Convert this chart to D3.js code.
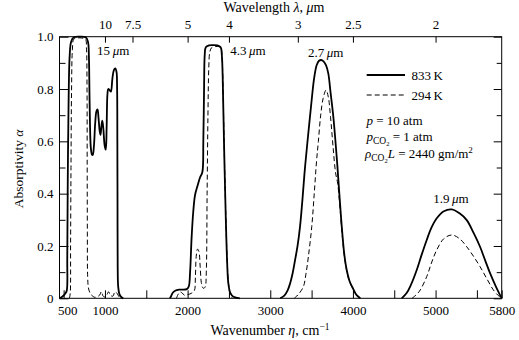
<!DOCTYPE html>
<html>
<head>
<meta charset="utf-8">
<script src="https://cdn.jsdelivr.net/npm/d3@7"></script>
<style>
  body { margin: 0; background: #fff; }
  svg text { font-family: "Liberation Serif", "Times New Roman", serif; fill: #000; }
</style>
</head>
<body>
<div id="wrapper"></div>
<script>
// band data: [wavenumber cm^-1, absorptivity]
const band15Hot = [[450,0],[490,0.008],[520,0.018],[538,0.03],[544,0.15],[550,0.45],[560,0.75],[572,0.92],[590,0.98],[620,0.997],[700,1.0],[770,0.997],[795,0.98],[806,0.92],[812,0.8],[818,0.68],[828,0.58],[842,0.55],[852,0.548],[866,0.58],[882,0.67],[897,0.715],[910,0.722],[922,0.69],[936,0.64],[946,0.625],[958,0.66],[968,0.679],[980,0.65],[996,0.585],[1010,0.568],[1020,0.65],[1030,0.78],[1040,0.8],[1058,0.795],[1072,0.79],[1090,0.84],[1108,0.872],[1125,0.879],[1140,0.865],[1147,0.8],[1150,0.6],[1152,0.35],[1154,0.12],[1160,0.045],[1175,0.016],[1200,0.004],[1222,0]];
const band15Cold = [[570,0],[580,0.02],[584,0.2],[589,0.5],[596,0.8],[606,0.95],[622,0.99],[660,0.995],[720,0.995],[764,0.99],[777,0.95],[783,0.8],[785,0.5],[787,0.25],[790,0.09],[800,0.04],[820,0.02],[845,0.01],[875,0.004],[905,0.006],[935,0.012],[958,0.026],[975,0.01],[995,0.005],[1020,0.012],[1045,0.025],[1065,0.012],[1095,0.008],[1122,0.025],[1148,0.018],[1174,0.004],[1195,0]];
const band43Hot = [[1785,0],[1800,0.008],[1820,0.021],[1850,0.029],[1900,0.033],[1990,0.035],[2014,0.045],[2030,0.1],[2048,0.23],[2068,0.33],[2090,0.395],[2120,0.43],[2150,0.462],[2178,0.482],[2190,0.6],[2199,0.8],[2207,0.93],[2220,0.96],[2260,0.967],[2300,0.968],[2360,0.967],[2400,0.96],[2414,0.93],[2424,0.85],[2440,0.6],[2460,0.33],[2478,0.14],[2492,0.06],[2515,0.022],[2555,0.006],[2632,0]];
const band43Cold = [[1865,0],[1885,0.015],[1910,0.024],[1935,0.02],[1960,0.012],[2000,0.014],[2050,0.02],[2082,0.03],[2094,0.08],[2104,0.16],[2120,0.188],[2136,0.18],[2152,0.12],[2166,0.06],[2180,0.042],[2196,0.038],[2214,0.045],[2226,0.1],[2236,0.4],[2246,0.7],[2256,0.88],[2268,0.94],[2290,0.958],[2330,0.962],[2380,0.962],[2404,0.955],[2416,0.925],[2426,0.84],[2441,0.6],[2461,0.33],[2479,0.14],[2493,0.06],[2512,0.02],[2540,0]];
const band27Hot = [[3120,0],[3170,0.01],[3210,0.03],[3240,0.057],[3270,0.095],[3300,0.146],[3330,0.2],[3360,0.274],[3390,0.38],[3421,0.503],[3460,0.63],[3501,0.758],[3530,0.84],[3562,0.892],[3590,0.908],[3614,0.911],[3645,0.906],[3675,0.89],[3702,0.86],[3730,0.785],[3763,0.694],[3811,0.51],[3840,0.38],[3865,0.274],[3895,0.17],[3925,0.108],[3960,0.065],[4005,0.035],[4045,0.012],[4090,0]];
const band27Cold = [[3290,0],[3340,0.015],[3400,0.044],[3430,0.09],[3461,0.159],[3502,0.274],[3532,0.4],[3560,0.525],[3582,0.6],[3610,0.7],[3640,0.765],[3675,0.796],[3702,0.77],[3730,0.69],[3763,0.567],[3790,0.48],[3815,0.44],[3840,0.36],[3865,0.262],[3895,0.165],[3925,0.104],[3960,0.062],[4005,0.033],[4045,0.011],[4088,0]];
const band19Hot = [[4590,0],[4650,0.02],[4700,0.05],[4772,0.108],[4830,0.165],[4893,0.223],[4950,0.27],[5014,0.306],[5100,0.333],[5196,0.34],[5290,0.325],[5377,0.299],[5460,0.25],[5538,0.197],[5600,0.145],[5659,0.096],[5730,0.045],[5800,0]];
const band19Cold = [[4715,0],[4800,0.025],[4893,0.083],[4950,0.135],[5014,0.185],[5100,0.228],[5196,0.242],[5290,0.228],[5377,0.197],[5460,0.16],[5538,0.121],[5620,0.075],[5699,0.032],[5760,0.01],[5800,0]];

const wavenumberTicks = [500, 1000, 1500, 2000, 2500, 3000, 3500, 4000, 4500, 5000, 5500, 5800];
const wavenumberLabels = [500, 1000, 2000, 3000, 4000, 5000, 5800];
const wavelengthTicks = [10, 7.5, 5, 4, 3, 2.5, 2];
const alphaTicks = [0, 0.1, 0.2, 0.3, 0.4, 0.5, 0.6, 0.7, 0.8, 0.9, 1.0];

const bandLabels = [
  { eta: 904, a: 0.93, num: "15", anchor: "start" },
  { eta: 2515, a: 0.93, num: "4.3", anchor: "start" },
  { eta: 3670, a: 0.924, num: "2.7", anchor: "middle" },
  { eta: 5186, a: 0.363, num: "1.9", anchor: "middle" },
];

const dimensions = {
  width: 519,
  height: 340,
  margin: { top: 36.7, right: 17.3, bottom: 41.7, left: 59.5 },
};
dimensions.boundedWidth = dimensions.width - dimensions.margin.left - dimensions.margin.right;
dimensions.boundedHeight = dimensions.height - dimensions.margin.top - dimensions.margin.bottom;

const svg = d3.select("#wrapper").append("svg")
  .attr("width", dimensions.width)
  .attr("height", dimensions.height);

const bounds = svg.append("g")
  .attr("transform", `translate(${dimensions.margin.left},${dimensions.margin.top})`);

const xScale = d3.scaleLinear().domain([450, 5800]).range([0, dimensions.boundedWidth]);
const yScale = d3.scaleLinear().domain([0, 1]).range([dimensions.boundedHeight, 0]);

const font = "Liberation Serif, Times New Roman, serif";
function styleAxis(g) {
  g.select(".domain").remove();
  g.attr("font-size", 13).attr("font-family", font);
  g.selectAll("line").attr("stroke", "#000");
}

// bottom axis
bounds.append("g")
  .attr("transform", `translate(0,${dimensions.boundedHeight})`)
  .call(d3.axisBottom(xScale).tickValues(wavenumberTicks).tickSizeInner(-8).tickSizeOuter(0).tickPadding(7.5)
    .tickFormat(d => wavenumberLabels.includes(d) ? d : ""))
  .call(styleAxis)
  .call(g => g.selectAll(".tick text").filter(d => d === 500).attr("dx", 3.5));

// top axis (wavelength)
bounds.append("g")
  .call(d3.axisTop(xScale).tickValues(wavelengthTicks.map(l => 1e4 / l)).tickSizeInner(-6).tickSizeOuter(0).tickPadding(7.4)
    .tickFormat((d, i) => wavelengthTicks[i]))
  .call(styleAxis);

// left and right axes
const fmtAlpha = d => d === 0 ? "0" : d3.format(".1f")(d);
const major = alphaTicks.filter((d, i) => i % 2 === 0);
const minor = alphaTicks.filter((d, i) => i % 2 === 1);
bounds.append("g")
  .call(d3.axisLeft(yScale).tickValues(major).tickSizeInner(-9).tickSizeOuter(0).tickPadding(6).tickFormat(fmtAlpha))
  .call(styleAxis);
bounds.append("g")
  .call(d3.axisLeft(yScale).tickValues(minor).tickSizeInner(-6).tickSizeOuter(0).tickFormat(""))
  .call(styleAxis);
bounds.append("g")
  .attr("transform", `translate(${dimensions.boundedWidth},0)`)
  .call(d3.axisRight(yScale).tickValues(major).tickSizeInner(-8).tickSizeOuter(0).tickFormat(""))
  .call(styleAxis);
bounds.append("g")
  .attr("transform", `translate(${dimensions.boundedWidth},0)`)
  .call(d3.axisRight(yScale).tickValues(minor).tickSizeInner(-5).tickSizeOuter(0).tickFormat(""))
  .call(styleAxis);

// frame
bounds.append("rect")
  .attr("width", dimensions.boundedWidth)
  .attr("height", dimensions.boundedHeight)
  .attr("fill", "none")
  .attr("stroke", "#000")
  .attr("stroke-width", 1);

// curves
const lineGenerator = d3.line()
  .x(d => xScale(d[0]))
  .y(d => yScale(d[1]))
  .curve(d3.curveCatmullRom.alpha(0.5));

const hotBands = [band15Hot, band43Hot, band27Hot, band19Hot];
const coldBands = [band15Cold, band43Cold, band27Cold, band19Cold];

bounds.selectAll(".cold")
  .data(coldBands)
  .join("path")
  .attr("class", "cold")
  .attr("d", lineGenerator)
  .attr("fill", "none")
  .attr("stroke", "#000")
  .attr("stroke-width", 1)
  .attr("stroke-dasharray", "5,3");

bounds.selectAll(".hot")
  .data(hotBands)
  .join("path")
  .attr("class", "hot")
  .attr("d", lineGenerator)
  .attr("fill", "none")
  .attr("stroke", "#000")
  .attr("stroke-width", 1.8)
  .attr("stroke-linejoin", "round");

// band labels
const labels = bounds.selectAll(".band-label")
  .data(bandLabels)
  .join("text")
  .attr("class", "band-label")
  .attr("x", d => xScale(d.eta))
  .attr("y", d => yScale(d.a))
  .attr("text-anchor", d => d.anchor)
  .attr("font-size", 13);
labels.append("tspan").text(d => d.num + "\u2009");
labels.append("tspan").attr("font-style", "italic").text("\u03bc");
labels.append("tspan").text("m");

// legend
const legend = svg.append("g").attr("font-size", 13);
legend.append("line").attr("x1", 366.7).attr("x2", 405).attr("y1", 75).attr("y2", 75)
  .attr("stroke", "#000").attr("stroke-width", 1.8);
legend.append("text").attr("x", 411.5).attr("y", 80.3).text("833\u2009K");
legend.append("line").attr("x1", 366.7).attr("x2", 405).attr("y1", 95).attr("y2", 95)
  .attr("stroke", "#000").attr("stroke-width", 1).attr("stroke-dasharray", "5,3");
legend.append("text").attr("x", 411.5).attr("y", 100.3).text("294\u2009K");

const t1 = legend.append("text").attr("x", 366.5).attr("y", 124.5);
t1.append("tspan").attr("font-style", "italic").text("p");
t1.append("tspan").text(" = 10 atm");

const t2 = legend.append("text").attr("x", 366.5).attr("y", 141);
t2.append("tspan").attr("font-style", "italic").text("p");
t2.append("tspan").attr("font-size", 9.5).attr("dy", 3).text("CO");
t2.append("tspan").attr("font-size", 6.5).attr("dy", 2).text("2");
t2.append("tspan").attr("dy", -5).text(" = 1 atm");

const t3 = legend.append("text").attr("x", 365).attr("y", 157.5);
t3.append("tspan").attr("font-style", "italic").text("\u03c1");
t3.append("tspan").attr("font-size", 9.5).attr("dy", 3).text("CO");
t3.append("tspan").attr("font-size", 6.5).attr("dy", 2).text("2");
t3.append("tspan").attr("font-style", "italic").attr("dy", -5).text("L");
t3.append("tspan").text(" = 2440 gm/m");
t3.append("tspan").attr("font-size", 9).attr("dy", -5).text("2");

// axis titles
const topTitle = svg.append("text").attr("x", 274).attr("y", 11.5).attr("text-anchor", "middle").attr("font-size", 14);
topTitle.append("tspan").text("Wavelength ");
topTitle.append("tspan").attr("font-style", "italic").text("\u03bb");
topTitle.append("tspan").text(", ");
topTitle.append("tspan").attr("font-style", "italic").text("\u03bc");
topTitle.append("tspan").text("m");

const bottomTitle = svg.append("text").attr("x", 270).attr("y", 335).attr("text-anchor", "middle").attr("font-size", 14);
bottomTitle.append("tspan").text("Wavenumber ");
bottomTitle.append("tspan").attr("font-style", "italic").text("\u03b7");
bottomTitle.append("tspan").text(", cm");
bottomTitle.append("tspan").attr("font-size", 9.5).attr("dy", -5).text("\u22121");

const yTitle = svg.append("text")
  .attr("transform", "translate(23,169) rotate(-90)")
  .attr("text-anchor", "middle")
  .attr("font-size", 13.5);
yTitle.append("tspan").text("Absorptivity ");
yTitle.append("tspan").attr("font-style", "italic").text("\u03b1");
</script>
</body>
</html>
